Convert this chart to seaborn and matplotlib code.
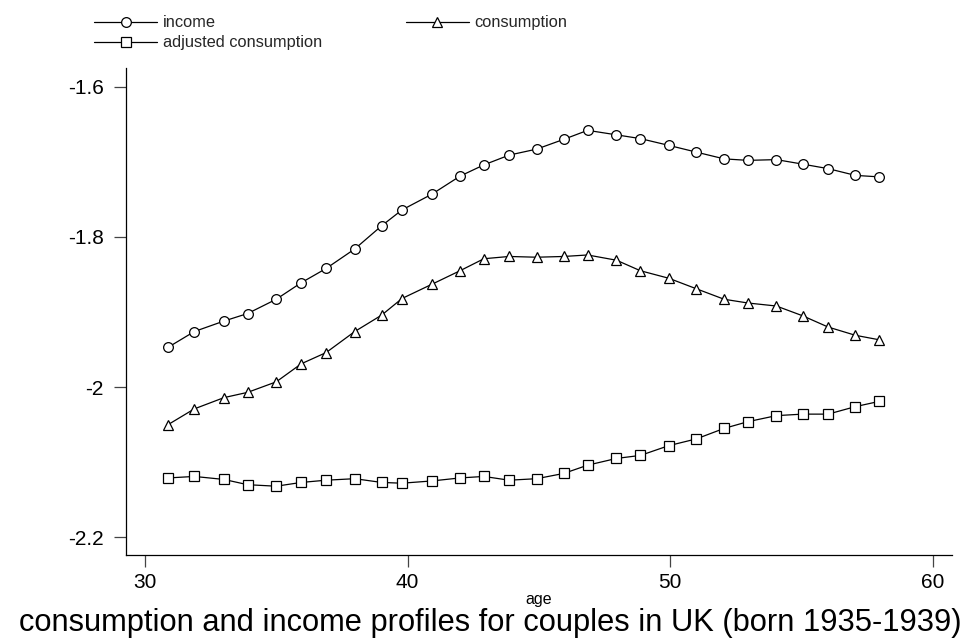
import matplotlib
matplotlib.use("Agg")
import matplotlib.pyplot as plt
from matplotlib.lines import Line2D
import seaborn as sns
import pandas as pd

# Mean age in each cell and the log profiles
age = [30.88, 31.88, 33.01, 33.91, 35.00, 35.95, 36.90, 37.99, 39.02, 39.79,
       40.93, 42.00, 42.91, 43.87, 44.92, 45.95, 46.86, 47.96, 48.87, 49.95,
       51.00, 52.06, 52.97, 54.05, 55.05, 56.02, 57.06, 57.97]
income = [-1.947, -1.926, -1.912, -1.902, -1.883, -1.861, -1.842, -1.816, -1.785, -1.764,
          -1.743, -1.719, -1.704, -1.691, -1.683, -1.670, -1.658, -1.664, -1.669, -1.678,
          -1.687, -1.696, -1.698, -1.697, -1.703, -1.709, -1.718, -1.720]
consumption = [-2.050, -2.029, -2.014, -2.007, -1.993, -1.969, -1.954, -1.926, -1.904, -1.882,
               -1.863, -1.845, -1.829, -1.826, -1.827, -1.826, -1.824, -1.831, -1.845, -1.855,
               -1.869, -1.883, -1.888, -1.892, -1.905, -1.920, -1.931, -1.937]
adjusted = [-2.121, -2.119, -2.123, -2.130, -2.132, -2.127, -2.124, -2.122, -2.127, -2.128,
            -2.125, -2.121, -2.119, -2.124, -2.122, -2.115, -2.104, -2.095, -2.091, -2.078,
            -2.069, -2.055, -2.046, -2.038, -2.036, -2.036, -2.026, -2.019]

series_names = ["income", "consumption", "adjusted consumption"]
series_markers = ["o", "^", "s"]
x_ticks = [30, 40, 50, 60]
y_ticks = [-1.6, -1.8, -2.0, -2.2]
y_tick_labels = ["-1.6", "-1.8", "-2", "-2.2"]

sns.set_theme(style="white")
plt.rcParams["font.family"] = ["Liberation Sans", "DejaVu Sans"]

df = pd.DataFrame({"age": age, "income": income, "consumption": consumption,
                   "adjusted consumption": adjusted})

fig = plt.figure(figsize=(9.63, 6.43), dpi=100)
ax = fig.add_axes([0.1305, 0.1369, 0.8581, 0.7573])

handles = {}
for name, mk in zip(series_names, series_markers):
    sns.lineplot(data=df, x="age", y=name, ax=ax, color="black", linewidth=0.9,
                 marker=mk, markersize=7 if mk != "^" else 7.5,
                 markerfacecolor="white", markeredgecolor="black",
                 markeredgewidth=0.9, legend=False)
    handles[name] = Line2D([], [], color="black", linewidth=0.9, marker=mk,
                           markersize=7, markerfacecolor="white",
                           markeredgecolor="black", markeredgewidth=0.9)

ax.set_xlim(29.265, 60.74)
ax.set_ylim(-2.2236, -1.575)
ax.set_xticks(x_ticks)
ax.set_xticklabels([str(t) for t in x_ticks])
ax.set_yticks(y_ticks)
ax.set_yticklabels(y_tick_labels)

for side in ["top", "right"]:
    ax.spines[side].set_visible(False)
for side in ["left", "bottom"]:
    ax.spines[side].set_color("black")
    ax.spines[side].set_linewidth(0.9)

ax.tick_params(axis="both", which="major", direction="out", length=8.8, width=0.9,
               color="#444444", labelsize=15, labelcolor="black",
               bottom=True, left=True)
ax.tick_params(axis="y", pad=7)
ax.tick_params(axis="x", pad=4)
ax.set_ylabel("")
ax.set_xlabel("age", fontsize=11.5, labelpad=0, color="black")

order = ["income", "adjusted consumption", "consumption"]
fig.legend([handles[n] for n in order], order, loc="upper left",
           bbox_to_anchor=(0.0976, 0.976), ncol=2, frameon=False, fontsize=11.8,
           handlelength=3.85, handletextpad=0.35, columnspacing=5.1,
           labelspacing=0.3, borderpad=0, borderaxespad=0, numpoints=1)

fig.text(0.5087, 0.007, "consumption and income profiles for couples in UK (born 1935-1939)",
         ha="center", va="bottom", fontsize=22.2, color="black")

fig.savefig("out.png", dpi=100, facecolor="white")
